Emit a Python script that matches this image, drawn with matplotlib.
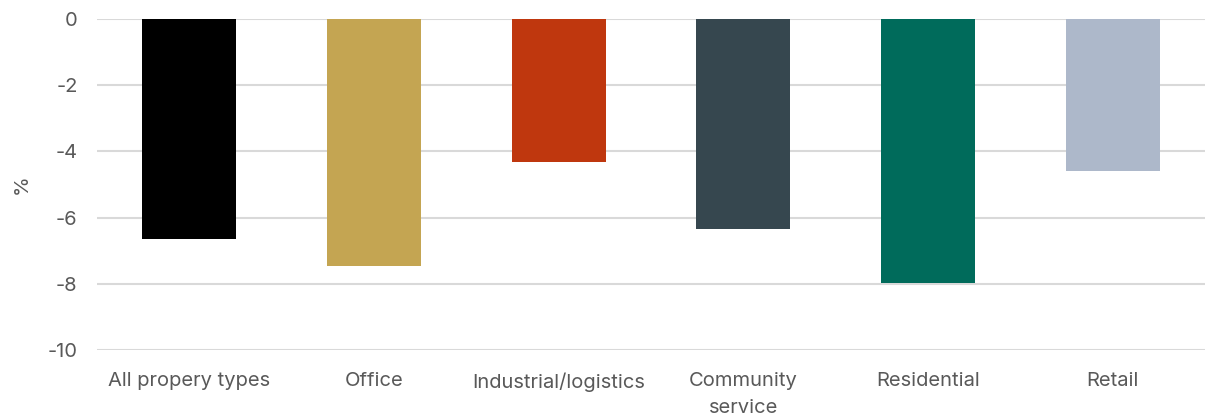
import matplotlib.pyplot as plt

categories = ["All propery types", "Office", "Industrial/logistics",
              "Community\nservice", "Residential", "Retail"]
values = [-6.65, -7.46, -4.33, -6.35, -7.97, -4.59]
colors = ["#000000", "#C4A552", "#BF370E", "#36474F", "#006B5B", "#ADB8CA"]
yticks = [0, -2, -4, -6, -8, -10]

plt.rcParams['font.family'] = ['Inter', 'DejaVu Sans']

fig = plt.figure(figsize=(12.1, 4.15), dpi=100)
ax = fig.add_axes([97/1210, 1 - 350/415, (1205 - 97)/1210, (350 - 19)/415])

x = range(len(categories))
ax.bar(x, values, width=0.51, color=colors, zorder=3)

ax.set_ylim(-10, 0)
ax.set_xlim(-0.5, len(categories) - 0.5)
ax.set_yticks(yticks)
ax.set_yticklabels([str(v) for v in yticks])
ax.set_xticks(list(x))
ax.set_xticklabels(categories, va='top', linespacing=1.6)

ax.yaxis.grid(True, color="#D9D9D9", linewidth=1.5, zorder=0)
ax.tick_params(axis='both', length=0, labelsize=14.5, labelcolor="#595959")
ax.tick_params(axis='y', pad=14)
ax.tick_params(axis='x', pad=16)
for s in ax.spines.values():
    s.set_visible(False)

ax.set_ylabel("%", fontsize=14.5, color="#595959", labelpad=12)

fig.savefig("out.png", dpi=100)
